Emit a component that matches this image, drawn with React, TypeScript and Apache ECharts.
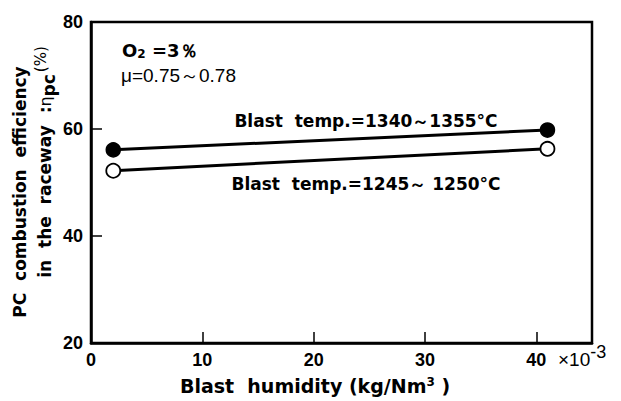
import React, { useEffect, useRef } from "react";
import * as echarts from "echarts";

const humidity = [2, 41];
const highTemp = [56.1, 59.8];
const lowTemp = [52.2, 56.3];
const xTicks = [0, 10, 20, 30, 40];
const yTicks = [20, 40, 60, 80];
const seriesNames = ["Blast  temp.=1340～1355°C", "Blast  temp.=1245～ 1250°C"];
const conditions = ["O{sub|2} =3％", "μ=0.75～0.78"];

const FONT = "'DejaVu Sans', 'Noto Sans', sans-serif";
const NUMFONT = "'Liberation Sans Narrow', 'Liberation Sans', sans-serif";

export default function App() {
  const ref = useRef<HTMLDivElement>(null);
  useEffect(() => {
    if (!ref.current) return;
    const chart = echarts.init(ref.current, null, { renderer: "svg" });
    const pts = (ys: number[]) => humidity.map((x, i) => [x, ys[i]]);
    chart.setOption({
      animation: false,
      backgroundColor: "#ffffff",
      grid: {
        left: 91,
        top: 22,
        right: 29,
        bottom: 58,
        show: true,
        borderColor: "#000",
        borderWidth: 2.5,
      },
      xAxis: {
        type: "value",
        min: 0,
        max: 45,
        interval: 10,
        splitLine: { show: false },
        axisLine: { lineStyle: { color: "#000", width: 2.5 } },
        axisTick: { inside: true, length: 11, lineStyle: { color: "#000", width: 1.5 } },
        axisLabel: {
          showMaxLabel: false,
          color: "#000",
          fontFamily: NUMFONT,
          fontWeight: "bold",
          fontSize: 18,
          margin: 8,
          formatter: (v: number) => (xTicks.includes(v) ? String(v) : ""),
        },
      },
      yAxis: {
        type: "value",
        min: 20,
        max: 80,
        interval: 20,
        splitLine: { show: false },
        axisLine: { lineStyle: { color: "#000", width: 2.5 } },
        axisTick: { inside: true, length: 11, lineStyle: { color: "#000", width: 1.5 } },
        axisLabel: {
          color: "#000",
          fontFamily: NUMFONT,
          fontWeight: "bold",
          fontSize: 18,
          margin: 8,
          formatter: (v: number) => (yTicks.includes(v) ? String(v) : ""),
        },
      },
      series: [
        {
          name: seriesNames[0],
          type: "line",
          data: pts(highTemp),
          symbol: "circle",
          symbolSize: 14,
          lineStyle: { color: "#000", width: 3 },
          itemStyle: { color: "#000", borderColor: "#000", borderWidth: 1.5 },
        },
        {
          name: seriesNames[1],
          type: "line",
          data: pts(lowTemp),
          symbol: "circle",
          symbolSize: 14,
          lineStyle: { color: "#000", width: 3 },
          itemStyle: { color: "#fff", borderColor: "#000", borderWidth: 1.8 },
        },
      ],
      graphic: [
        {
          type: "text",
          x: 122,
          y: 50,
          style: {
            text: conditions[0],
            fill: "#000",
            font: `bold 18px ${FONT}`,
            verticalAlign: "middle",
            rich: {
              sub: { fontSize: 12, fontWeight: "bold", fontFamily: FONT, verticalAlign: "bottom", padding: [8, 0, 0, 0] },
            },
          },
        },
        {
          type: "text",
          x: 121,
          y: 75,
          style: {
            text: conditions[1],
            fill: "#000",
            font: `19px ${NUMFONT}`,
            verticalAlign: "middle",
          },
        },
        {
          type: "text",
          x: 366,
          y: 121,
          style: {
            text: seriesNames[0],
            fill: "#000",
            font: `bold 17px ${FONT}`,
            align: "center",
            verticalAlign: "middle",
          },
        },
        {
          type: "text",
          x: 366,
          y: 184,
          style: {
            text: seriesNames[1],
            fill: "#000",
            font: `bold 17px ${FONT}`,
            align: "center",
            verticalAlign: "middle",
          },
        },
        {
          type: "text",
          x: 558,
          y: 359,
          style: {
            text: "×10{sup|-3}",
            fill: "#000",
            font: `19px ${NUMFONT}`,
            verticalAlign: "middle",
            rich: {
              sup: { fontSize: 18, fontFamily: NUMFONT, padding: [0, 0, 14, 0] },
            },
          },
        },
        {
          type: "text",
          x: 315,
          y: 386,
          style: {
            text: "Blast  humidity (kg/Nm{sup|3} )",
            fill: "#000",
            font: `bold 19px ${FONT}`,
            align: "center",
            verticalAlign: "middle",
            rich: {
              sup: { fontSize: 12, fontWeight: "bold", fontFamily: FONT, padding: [0, 0, 9, 0] },
            },
          },
        },
        {
          type: "text",
          x: 20,
          y: 192,
          rotation: Math.PI / 2,
          style: {
            text: "PC  combustion  efficiency",
            fill: "#000",
            font: `bold 17px ${FONT}`,
            align: "center",
            verticalAlign: "middle",
          },
        },
        {
          type: "text",
          x: 45,
          y: 162,
          rotation: Math.PI / 2,
          style: {
            text: "in  the  raceway  :{eta|η}{sub|pc}{sup|(%)}",
            fill: "#000",
            font: `bold 17px ${FONT}`,
            align: "center",
            verticalAlign: "middle",
            rich: {
              eta: { fontSize: 16, fontWeight: "normal", fontFamily: FONT },
              sub: { fontSize: 17, fontWeight: "bold", fontFamily: FONT, padding: [8, 0, 0, 0] },
              sup: { fontSize: 15, fontWeight: "normal", fontFamily: FONT, padding: [0, 0, 8, 2] },
            },
          },
        },
      ],
    });
    return () => chart.dispose();
  }, []);
  return (
    <div
      ref={ref}
      style={{ position: "fixed", left: 0, top: 0, width: 621, height: 401, background: "#fff" }}
    />
  );
}
